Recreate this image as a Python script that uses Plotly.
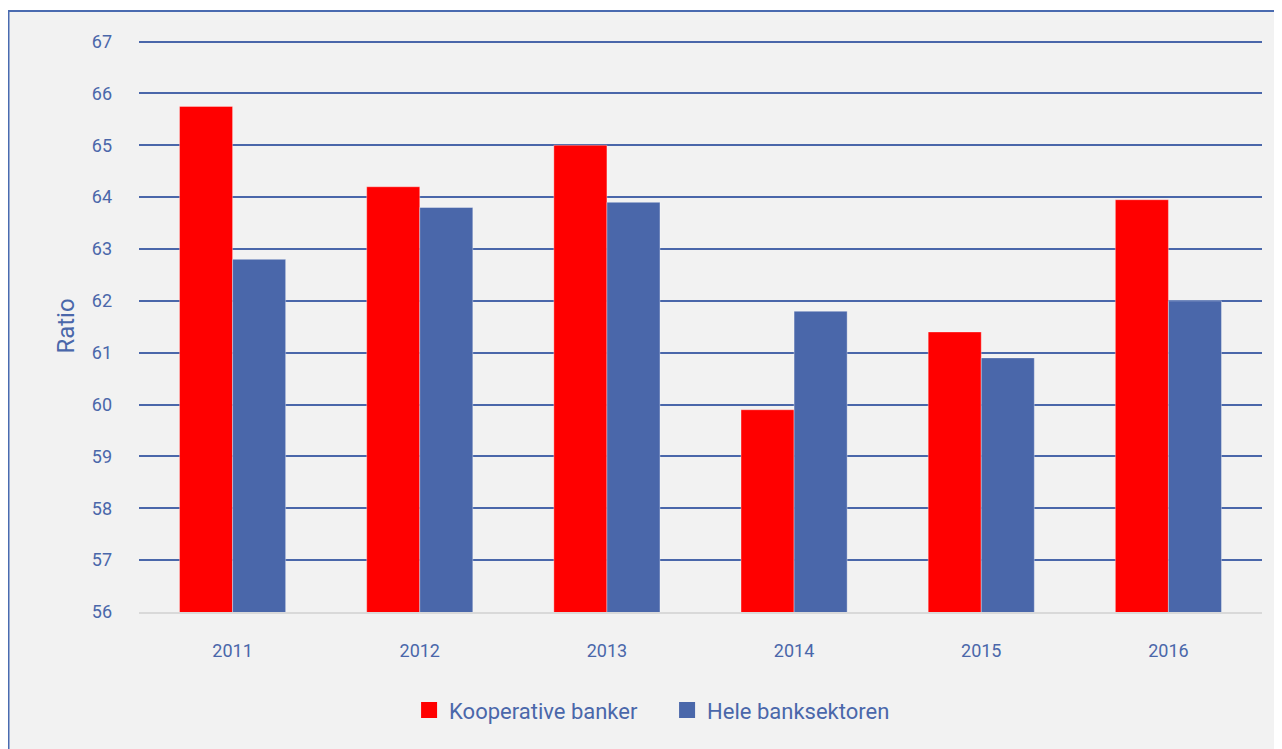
import plotly.graph_objects as go

years = ["2011", "2012", "2013", "2014", "2015", "2016"]
kooperative = [65.75, 64.2, 65.0, 59.9, 61.4, 63.95]
hele = [62.8, 63.8, 63.9, 61.8, 60.9, 62.0]
series_names = ["Kooperative banker", "Hele banksektoren"]
series_colors = ["#ff0000", "#4a67aa"]
y_ticks = list(range(56, 68))

FONT = "Roboto"
TXT = "#4a67aa"

fig = go.Figure()
for name, vals, col in zip(series_names, [kooperative, hele], series_colors):
    fig.add_trace(go.Bar(x=years, y=vals, name=name, legendgroup=name, showlegend=False,
                         marker=dict(color=col, line=dict(color="rgba(255,255,255,0.35)", width=1))))
for name, col in zip(series_names, series_colors):
    fig.add_trace(go.Scatter(x=[None], y=[None], name=name, legendgroup=name, mode="markers",
                             marker=dict(symbol="square", size=18, color=col)))

fig.update_layout(
    width=1274, height=741,
    margin=dict(l=131, r=20, t=32, b=137),
    paper_bgcolor="white", plot_bgcolor="#f2f2f2",
    barmode="group", bargap=0.433, bargroupgap=0,
    font=dict(family=FONT, color=TXT, size=18),
    showlegend=True,
    legend=dict(orientation="h", x=0.2405, xanchor="left", y=-0.135, yanchor="top",
                font=dict(size=22, color=TXT, family=FONT), bgcolor="rgba(0,0,0,0)",
                traceorder="normal", entrywidth=213, entrywidthmode="pixels", itemsizing="trace"),
    xaxis=dict(showgrid=False, showline=True, linecolor="#d9d9d9", linewidth=2,
               ticks="", tickfont=dict(size=18, color=TXT), ticklabelstandoff=21),
    yaxis=dict(range=[56, 67.03], tickvals=y_ticks, showgrid=True, gridcolor="#4a67aa", gridwidth=2,
               zeroline=False, ticks="", tickfont=dict(size=18, color=TXT), ticklabelstandoff=26,
               title=dict(text="Ratio", font=dict(size=24, color=TXT), standoff=10)),
    shapes=[dict(type="rect", xref="paper", yref="paper", x0=-0.1162, x1=1.0169, y0=-0.26, y1=1.0507,
                 fillcolor="#f2f2f2", line=dict(color="#4a6bb0", width=2), layer="below")],
)

fig.write_html("out.html")
